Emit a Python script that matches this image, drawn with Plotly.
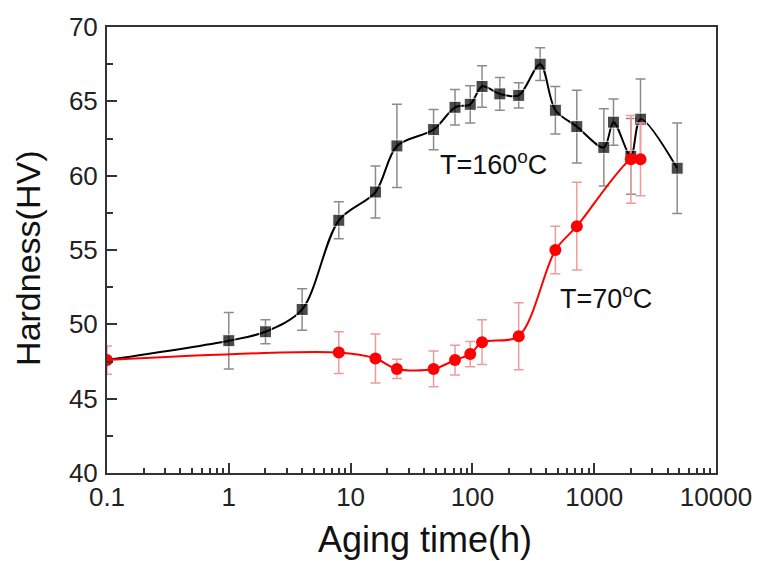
import plotly.graph_objects as go

# ---- data ----
time_160 = [0.1, 1, 2, 4, 8, 16, 24, 48, 72, 96, 120, 168, 240, 360, 480, 720, 1200, 1440, 2000, 2400, 4800]
hv_160 = [47.6, 48.9, 49.5, 51.0, 57.0, 58.9, 62.0, 63.1, 64.6, 64.8, 66.0, 65.5, 65.4, 67.5, 64.4, 63.3, 61.9, 63.6, 61.3, 63.8, 60.5]
err_160 = [0, 1.9, 0.8, 1.4, 1.25, 1.75, 2.8, 1.35, 1.2, 1.25, 1.4, 1.1, 0.85, 1.1, 1.6, 2.45, 2.6, 1.55, 2.55, 2.7, 3.05]

time_70 = [0.1, 8, 16, 24, 48, 72, 96, 120, 240, 480, 720, 2000, 2400]
hv_70 = [47.6, 48.1, 47.7, 47.0, 47.0, 47.6, 48.0, 48.8, 49.2, 55.0, 56.6, 61.1, 61.1]
err_70 = [0.95, 1.4, 1.65, 0.65, 1.2, 1.0, 0.85, 1.5, 2.25, 1.6, 2.95, 2.95, 2.45]

x_tickvals = [0.1, 1, 10, 100, 1000, 10000]
x_ticktext = ["0.1", "1", "10", "100", "1000", "10000"]
y_tickvals = [40, 45, 50, 55, 60, 65, 70]

FONT = "Arial, Liberation Sans, sans-serif"

minor_x = [m * d for d in [0.1, 1, 10, 100, 1000] for m in range(2, 10)]

fig = go.Figure()

sizes_160 = [0] + [12] * (len(time_160) - 1)
fig.add_trace(go.Scatter(
    x=time_160, y=hv_160, mode="lines+markers",
    line=dict(color="black", width=2, shape="spline", smoothing=0.9),
    marker=dict(symbol="square", size=sizes_160, color="black"),
    error_y=dict(type="data", array=err_160, visible=True, color="#8c8c8c", thickness=1.5, width=5),
    showlegend=False,
))
fig.add_trace(go.Scatter(
    x=time_70, y=hv_70, mode="lines+markers",
    line=dict(color="#ff0000", width=2, shape="spline", smoothing=0.9),
    marker=dict(symbol="circle", size=12, color="#ff0000"),
    error_y=dict(type="data", array=err_70, visible=True, color="#f29a9a", thickness=1.5, width=5),
    showlegend=False,
))

fig.update_layout(
    width=764, height=561,
    margin=dict(l=107, r=38, t=20, b=88),
    paper_bgcolor="white", plot_bgcolor="white",
    font=dict(family=FONT, color="#222"),
    xaxis=dict(
        type="log", range=[-1, 4],
        tickvals=x_tickvals, ticktext=x_ticktext,
        ticks="inside", ticklen=10, tickwidth=2, tickcolor="#333",
        minor=dict(tickvals=minor_x, ticks="inside", ticklen=5, tickwidth=1.5, tickcolor="#333", showgrid=False),
        showline=True, linewidth=2, linecolor="#333", mirror=True,
        showgrid=False, zeroline=False,
        tickfont=dict(size=26, family=FONT, color="#222"),
        ticklabelstandoff=0,
    ),
    yaxis=dict(
        range=[40, 70], tickvals=y_tickvals,
        ticks="inside", ticklen=10, tickwidth=2, tickcolor="#333",
        minor=dict(dtick=2.5, ticks="inside", ticklen=6, tickwidth=1.5, tickcolor="#333", showgrid=False),
        showline=True, linewidth=2, linecolor="#333", mirror=True,
        showgrid=False, zeroline=False,
        tickfont=dict(size=26, family=FONT, color="#222"),
        ticklabelstandoff=2,
    ),
    annotations=[
        dict(text="Aging time(h)", xref="paper", yref="paper", x=0.522, y=-0.148,
             showarrow=False, font=dict(size=36, family=FONT, color="#111"),
             xanchor="center", yanchor="middle"),
        dict(text="Hardness(HV)", xref="paper", yref="paper", x=-0.129, y=0.481,
             showarrow=False, textangle=-90, font=dict(size=34, family=FONT, color="#111"),
             xanchor="center", yanchor="middle"),
        dict(text="T=160<sup>o</sup>C", x=1.714, y=60.86, xref="x", yref="y",
             showarrow=False, xanchor="left", yanchor="middle",
             font=dict(size=27, family=FONT, color="#111")),
        dict(text="T=70<sup>o</sup>C", x=2.70, y=51.85, xref="x", yref="y",
             showarrow=False, xanchor="left", yanchor="middle",
             font=dict(size=27, family=FONT, color="#111")),
    ],
)

fig.write_html("out.html")
